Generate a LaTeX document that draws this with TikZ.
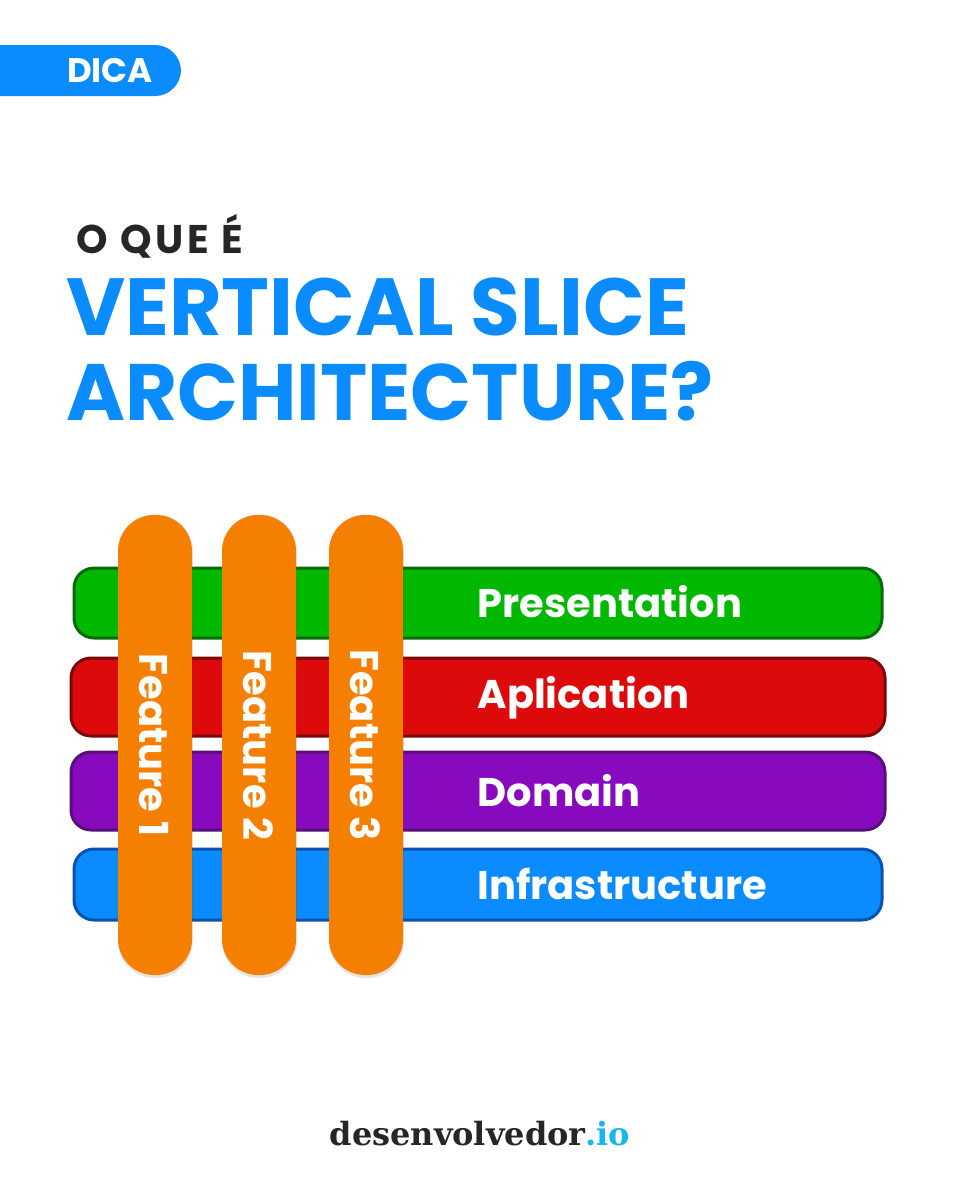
\documentclass[tikz,border=0pt]{standalone}
\usepackage{fontspec}
\setmainfont{Poppins}
\newfontfamily\slab{DejaVu Serif}
\usetikzlibrary{shadows}
\definecolor{mblue}{HTML}{0A8CFF}
\definecolor{dtext}{HTML}{262626}
\definecolor{gfill}{HTML}{00B800}
\definecolor{gline}{HTML}{0A6A0A}
\definecolor{rfill}{HTML}{DC0A0A}
\definecolor{rline}{HTML}{7A0A0A}
\definecolor{pfill}{HTML}{880ABE}
\definecolor{pline}{HTML}{55107A}
\definecolor{bfill}{HTML}{0A8CFF}
\definecolor{bline}{HTML}{0A52B0}
\definecolor{ofill}{HTML}{F57F00}
\definecolor{iocol}{HTML}{19B5F0}
\tikzset{
  layer/.style={rounded corners=20pt, line width=3pt},
  layertxt/.style={anchor=west, text=white, font=\bfseries\fontsize{40}{40}\selectfont},
  feat/.style={draw=none, fill=ofill, minimum width=74pt, minimum height=460pt, rounded corners=36pt, inner sep=0pt,
    general shadow={fill=black, opacity=0.10, shadow xshift=0.5pt, shadow yshift=-1.2pt, shadow scale=1.008}},
  feattxt/.style={rotate=-90, text=white, font=\bfseries\fontsize{40}{40}\selectfont}
}
\begin{document}
\begin{tikzpicture}[x=1pt,y=-1pt]
\useasboundingbox (0,0) rectangle (960,1200);
\fill[white] (0,0) rectangle (960,1200);
% DICA pill
\fill[mblue, rounded corners=26pt] (-40,45) rectangle (181,96);
\node[text=white, font=\bfseries\fontsize{34}{34}\selectfont] (dica) at (110,71) {DICA};
% titles
\node[anchor=base west, text=dtext, font=\bfseries\fontsize{40}{40}\selectfont\addfontfeatures{LetterSpace=10}, inner sep=0pt] (oque) at (76,253) {O QUE É};
\node[anchor=base west, text=mblue, font=\bfseries\fontsize{81}{81}\selectfont, inner sep=0pt] (t1) at (66,335) {VERTICAL SLICE};
\node[anchor=base west, text=mblue, font=\bfseries\fontsize{80}{80}\selectfont, inner sep=0pt] (t2) at (66,420) {ARCHITECTURE?};
% layers
\draw[layer, fill=gfill, draw=gline] (74,568) rectangle (882,638);
\draw[layer, fill=rfill, draw=rline] (71,658) rectangle (885,736);
\draw[layer, fill=pfill, draw=pline] (71,752) rectangle (885,830);
\draw[layer, fill=bfill, draw=bline] (74,849) rectangle (882,920);
\node[layertxt] (pres) at (474,602) {Presentation};
\node[layertxt] (apl) at (474,698) {Aplication};
\node[layertxt] (dom) at (474,791) {Domain};
\node[layertxt] (inf) at (474,884) {Infrastructure};
% features
\node[feat] (f1) at (155,745) {};
\node[feat] (f2) at (259,745) {};
\node[feat] (f3) at (366,745) {};
\node[feattxt] (f1t) at (154,745) {Feature 1};
\node[feattxt] (f2t) at (258,745) {Feature 2};
\node[feattxt] (f3t) at (365,745) {Feature 3};
% footer
\node[font=\slab\bfseries\fontsize{32}{32}\selectfont, text=dtext, inner sep=0pt] (foot) at (480,1134) {desenvolvedor\textcolor{iocol}{.io}};
\end{tikzpicture}
\end{document}
